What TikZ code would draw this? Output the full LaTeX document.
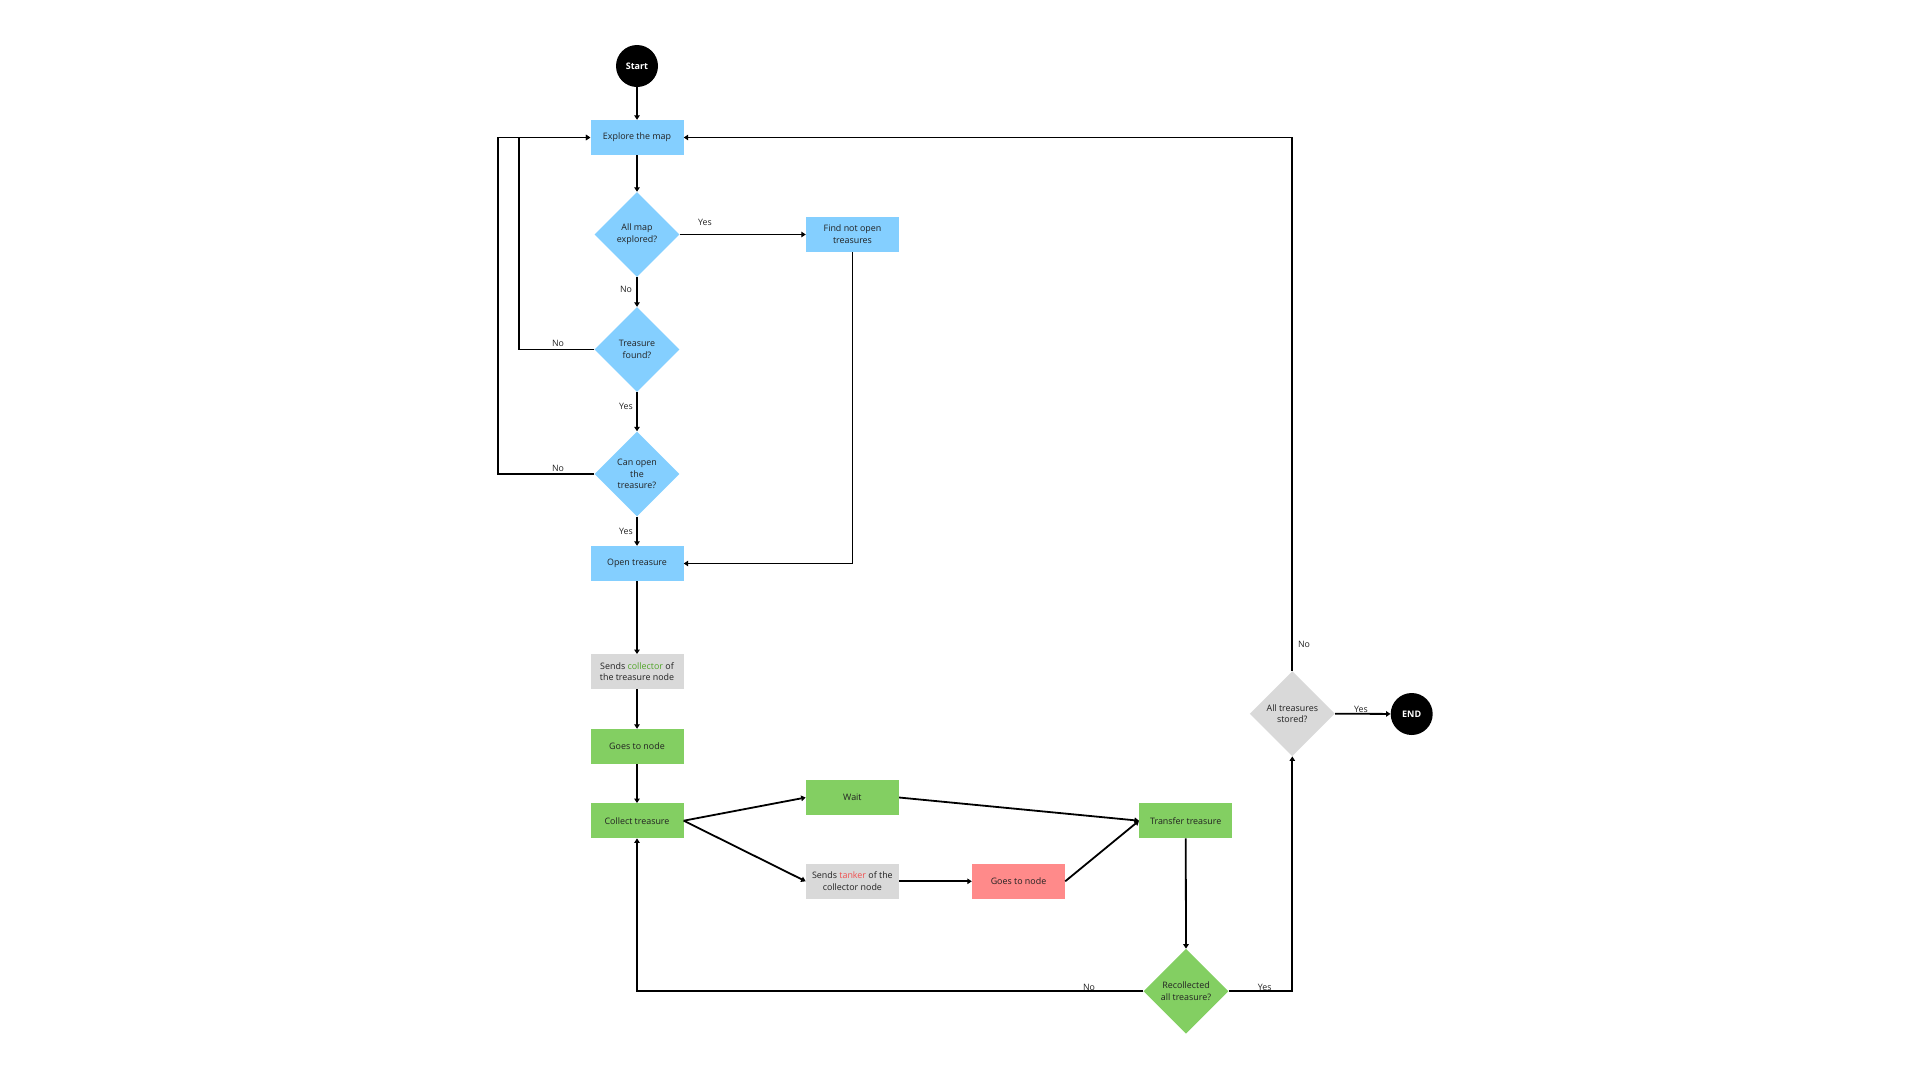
\documentclass[tikz,border=0pt]{standalone}
\usepackage{fontspec}
\setmainfont{Open Sans}
\usetikzlibrary{shapes.geometric,arrows.meta}
\definecolor{bluebox}{RGB}{132,207,255}
\definecolor{greenbox}{RGB}{131,207,98}
\definecolor{graybox}{RGB}{217,217,217}
\definecolor{redbox}{RGB}{255,138,138}
\definecolor{txtgreen}{RGB}{80,165,40}
\definecolor{txtred}{RGB}{240,80,80}
\definecolor{txt}{RGB}{34,34,34}
\tikzset{
  base/.style={inner sep=0pt, align=center, text=txt, font=\fontsize{8.9}{11.8}\selectfont},
  procbox/.style={base, rectangle, minimum width=93pt, minimum height=35pt},
  decbox/.style={base, diamond, aspect=1, minimum width=85pt, minimum height=85pt},
  termbox/.style={circle, fill=black, minimum size=42pt, inner sep=0pt, text=white, font=\fontsize{9}{11}\selectfont\bfseries},
  conn/.style={line width=1.8pt, -{Triangle[width=5.5pt,length=4.5pt]}},
  lbl/.style={text=txt, font=\fontsize{8.8}{10}\selectfont, inner sep=0pt}
}
\begin{document}
\begin{tikzpicture}[x=1pt,y=-1pt]
\useasboundingbox (0,0) rectangle (1920,1080);
% nodes
\node[termbox] (start) at (637,66) {Start};
\node[procbox, fill=bluebox] (explore) at (637,137.5) {Explore the map};
\node[decbox, fill=bluebox] (allmap) at (637,234.5) {All map\\explored?};
\node[procbox, fill=bluebox] (find) at (852.5,234.5) {Find not open\\treasures};
\node[decbox, fill=bluebox] (found) at (637,349.5) {Treasure\\found?};
\node[decbox, fill=bluebox] (canopen) at (637,474) {Can open\\the\\treasure?};
\node[procbox, fill=bluebox] (open) at (637,563.5) {Open treasure};
\node[procbox, fill=graybox] (sendcol) at (637,671.7) {Sends \textcolor{txtgreen}{collector} of\\the treasure node};
\node[procbox, fill=greenbox] (goes1) at (637,746.5) {Goes to node};
\node[procbox, fill=greenbox] (collect) at (637,820.7) {Collect treasure};
\node[procbox, fill=greenbox] (wait) at (852.4,797.5) {Wait};
\node[procbox, fill=graybox] (sendtank) at (852.4,881.3) {Sends \textcolor{txtred}{tanker} of the\\collector node};
\node[procbox, fill=redbox] (goes2) at (1018.5,881.3) {Goes to node};
\node[procbox, fill=greenbox] (transfer) at (1185.7,820.7) {Transfer treasure};
\node[decbox, fill=greenbox] (recol) at (1186,991.3) {Recollected\\all treasure?};
\node[decbox, fill=graybox] (stored) at (1292.3,713.7) {All treasures\\stored?};
\node[termbox] (end) at (1411.7,714) {END};
\coordinate (innerx) at (519.3,0);
\coordinate (outerx) at (498.3,0);
% connectors
\draw[conn] (start) -- (explore);
\draw[conn] (explore) -- (allmap);
\draw[conn] (allmap.east) -- (find.west);
\draw[conn] (allmap.south) -- (found.north);
\draw[conn] (found.south) -- (canopen.north);
\draw[conn] (canopen.south) -- (open.north);
\draw[conn] (found.west) -- (innerx |- found.west) -- (innerx |- explore.west) -- (explore.west);
\draw[conn] (canopen.west) -- (outerx |- canopen.west) -- (outerx |- explore.west) -- (explore.west);
\draw[conn] (find.south) -- (find.south |- open.east) -- (open.east);
\draw[conn] (open) -- (sendcol);
\draw[conn] (sendcol) -- (goes1);
\draw[conn] (goes1) -- (collect);
\draw[conn] (collect.east) -- (wait.west);
\draw[conn] (collect.east) -- (sendtank.west);
\draw[conn] (sendtank) -- (goes2);
\draw[conn] (wait.east) -- (transfer.west);
\draw[conn] (goes2.east) -- (transfer.west);
\draw[conn] (transfer) -- (recol.north);
\draw[conn] (recol.west) -- (collect.south |- recol.west) -- (collect.south);
\draw[conn] (recol.east) -- (stored.south |- recol.east) -- (stored.south);
\draw[conn] (stored.north) -- (stored.north |- explore.east) -- (explore.east);
\draw[conn] (stored.east) -- (end);
% labels
\node[lbl] (l1) at (705,222.5) {Yes};
\node[lbl] (l2) at (626,289.5) {No};
\node[lbl] (l3) at (558,343.5) {No};
\node[lbl] (l4) at (626,406.5) {Yes};
\node[lbl] (l5) at (558,468.5) {No};
\node[lbl] (l6) at (626,531) {Yes};
\node[lbl] (l7) at (1089,987) {No};
\node[lbl] (l8) at (1264.7,987) {Yes};
\node[lbl] (l9) at (1361,709) {Yes};
\node[lbl] (l10) at (1304,644) {No};
\end{tikzpicture}
\end{document}
